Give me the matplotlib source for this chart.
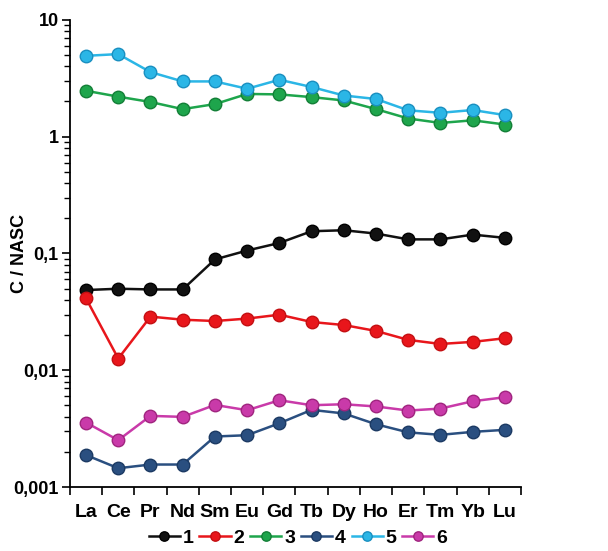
import numpy as np
import matplotlib.pyplot as plt
from matplotlib.ticker import FixedLocator, LogLocator, NullFormatter

plt.rcParams['font.family'] = ['Liberation Sans', 'DejaVu Sans']
plt.rcParams['font.weight'] = 'bold'

elements = ['La', 'Ce', 'Pr', 'Nd', 'Sm', 'Eu', 'Gd', 'Tb', 'Dy', 'Ho', 'Er', 'Tm', 'Yb', 'Lu']

s1 = [0.0486, 0.0499, 0.0492, 0.0492, 0.0889, 0.106, 0.123, 0.155, 0.158, 0.148, 0.132, 0.132, 0.145, 0.136]
s2 = [0.0412, 0.0126, 0.0288, 0.0271, 0.0264, 0.0277, 0.0299, 0.0259, 0.0244, 0.0217, 0.0182, 0.0168, 0.0175, 0.0188]
s3 = [2.47, 2.20, 1.98, 1.72, 1.90, 2.32, 2.30, 2.18, 2.04, 1.72, 1.43, 1.31, 1.38, 1.27]
s4 = [0.00188, 0.00145, 0.00156, 0.00156, 0.00271, 0.00278, 0.00352, 0.00458, 0.00427, 0.00345, 0.00294, 0.00280, 0.00297, 0.00309]
s5 = [4.92, 5.09, 3.57, 2.97, 2.97, 2.57, 3.07, 2.66, 2.25, 2.10, 1.68, 1.60, 1.69, 1.53]
s6 = [0.00357, 0.00252, 0.00407, 0.00399, 0.00505, 0.00455, 0.00554, 0.00502, 0.00512, 0.00490, 0.00452, 0.00470, 0.00543, 0.00588]

series = [s1, s2, s3, s4, s5, s6]
labels = ['1', '2', '3', '4', '5', '6']
colors = ['#111111', '#e8161b', '#1ea54c', '#2a4f80', '#2bb6e6', '#c93aa9']
edges = ['#000000', '#c40f12', '#137f37', '#1c3a63', '#1a8fc0', '#a0257f']

fig = plt.figure(figsize=(6.08, 5.51), dpi=100)
ax = fig.add_axes([0.115, 0.116, 0.742, 0.848])

x = np.arange(len(elements))
for ys, lab, c, ec in zip(series, labels, colors, edges):
    ax.plot(x, ys, '-', color=c, lw=1.8, marker='o', ms=9,
            mfc=c, mec=ec, mew=1.0, label=lab)

ax.set_yscale('log')
ax.set_ylim(0.001, 10)
ax.set_xlim(-0.5, len(elements) - 0.5)

ax.yaxis.set_major_locator(FixedLocator([0.001, 0.01, 0.1, 1, 10]))
ax.set_yticklabels(['0,001', '0,01', '0,1', '1', '10'])
ax.yaxis.set_minor_locator(LogLocator(base=10, subs=np.arange(2, 10)))
ax.yaxis.set_minor_formatter(NullFormatter())

ax.set_xticks(x)
ax.set_xticklabels(elements)
ax.set_xticks(np.arange(-0.5, len(elements)), minor=True)
ax.tick_params(axis='x', which='major', length=0, pad=12, labelsize=14)
ax.tick_params(axis='x', which='minor', length=6, width=1.2, direction='out')
ax.tick_params(axis='y', which='major', length=6, width=1.2, labelsize=13, pad=2)
ax.tick_params(axis='y', which='minor', length=4, width=1.0)

for side in ['top', 'right']:
    ax.spines[side].set_visible(False)
for side in ['left', 'bottom']:
    ax.spines[side].set_linewidth(1.3)

ax.set_ylabel('C / NASC', fontsize=13, fontweight='bold')
ax.yaxis.set_label_coords(-0.093, 0.5)

fig.legend(loc='center', bbox_to_anchor=(0.49, 0.024), ncol=6, frameon=False,
           fontsize=14, handlelength=1.6, handletextpad=0.15, columnspacing=0.3,
           markerscale=0.75)

fig.savefig('out.png', dpi=100)
